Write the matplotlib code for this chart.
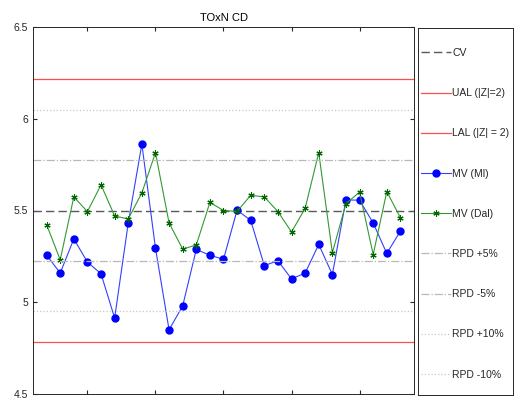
import numpy as np
import matplotlib
matplotlib.use("Agg")
import matplotlib.pyplot as plt

# Данные
runs = np.arange(1, 28)
mv_ml = [5.257, 5.159, 5.345, 5.219, 5.155, 4.914, 5.432, 5.862, 5.295, 4.850,
         4.980, 5.288, 5.256, 5.234, 5.502, 5.446, 5.200, 5.226, 5.127, 5.159,
         5.315, 5.151, 5.558, 5.556, 5.432, 5.266, 5.388]
mv_dal = [5.423, 5.231, 5.574, 5.494, 5.640, 5.470, 5.454, 5.596, 5.815, 5.432,
          5.290, 5.312, 5.544, 5.500, 5.495, 5.583, 5.574, 5.494, 5.383, 5.512,
          5.815, 5.270, 5.538, 5.600, 5.260, 5.603, 5.461]
cv = 5.5
ual = 6.216
lal = 4.784
rpd5 = [cv * 1.05, cv * 0.95]
rpd10 = [cv * 1.10, cv * 0.90]
yticks = [4.5, 5, 5.5, 6, 6.5]
xticks = [4, 9, 14, 19, 24]

plt.rcParams['font.family'] = ['Liberation Sans', 'DejaVu Sans']
fig = plt.figure(figsize=(5.14, 3.99), dpi=100)
ax = fig.add_axes([33 / 514, 1 - 394 / 399, 381 / 514, 367 / 399])

ax.axhline(cv, color=(0.35, 0.35, 0.35), ls=(0, (6, 3)), lw=1.0, label='CV')
ax.axhline(ual, color=(1, 0.3, 0.3), lw=0.9, label='UAL (|Z|=2)')
ax.axhline(lal, color=(1, 0.3, 0.3), lw=0.9, label='LAL (|Z| = 2)')
ax.plot(runs, mv_ml, color=(0.2, 0.25, 1), lw=0.8, marker='o', ms=5,
        mfc='blue', mec='blue', label='MV (Ml)')
ax.plot(runs, mv_dal, color=(0.2, 0.6, 0.2), lw=0.8, marker=(6, 2, 0), ms=4.5,
        mec=(0, 0.4, 0), mew=0.8, label='MV (Dal)')
ax.axhline(rpd5[0], color=(0.72, 0.72, 0.72), ls='-.', lw=0.9, label='RPD +5%')
ax.axhline(rpd5[1], color=(0.72, 0.72, 0.72), ls='-.', lw=0.9, label='RPD -5%')
ax.axhline(rpd10[0], color=(0.78, 0.78, 0.78), ls=':', lw=0.9, label='RPD +10%')
ax.axhline(rpd10[1], color=(0.78, 0.78, 0.78), ls=':', lw=0.9, label='RPD -10%')

ax.set_xlim(0, 28)
ax.set_ylim(4.5, 6.5)
ax.set_yticks(yticks)
ax.set_yticklabels(['4.5', '5', '5.5', '6', '6.5'])
ax.set_xticks(xticks)
ax.set_xticklabels([])
ax.tick_params(direction='in', top=True, right=True, length=3,
               labelsize=7.5, colors=(0.15, 0.15, 0.15))
for s in ax.spines.values():
    s.set_color((0.15, 0.15, 0.15))
    s.set_linewidth(0.7)
ax.set_title('TOxN CD', fontsize=8, pad=4)

# легенда в отдельной рамке справа
lax = fig.add_axes([418 / 514, 1 - 395 / 399, 95 / 514, 367 / 399])
lax.set_xticks([])
lax.set_yticks([])
for s in lax.spines.values():
    s.set_color((0.15, 0.15, 0.15))
    s.set_linewidth(0.7)
handles, labels = ax.get_legend_handles_labels()
leg = lax.legend(handles, labels, loc='upper left', bbox_to_anchor=(0.03, 1 - 20 / 367),
                 bbox_transform=lax.transAxes, fontsize=7.5,
                 labelspacing=2.9, handlelength=2.9, handletextpad=0.1,
                 borderaxespad=0, borderpad=0, frameon=False)
for t in leg.get_texts():
    t.set_color((0.15, 0.15, 0.15))

fig.savefig('out.png', dpi=100)
